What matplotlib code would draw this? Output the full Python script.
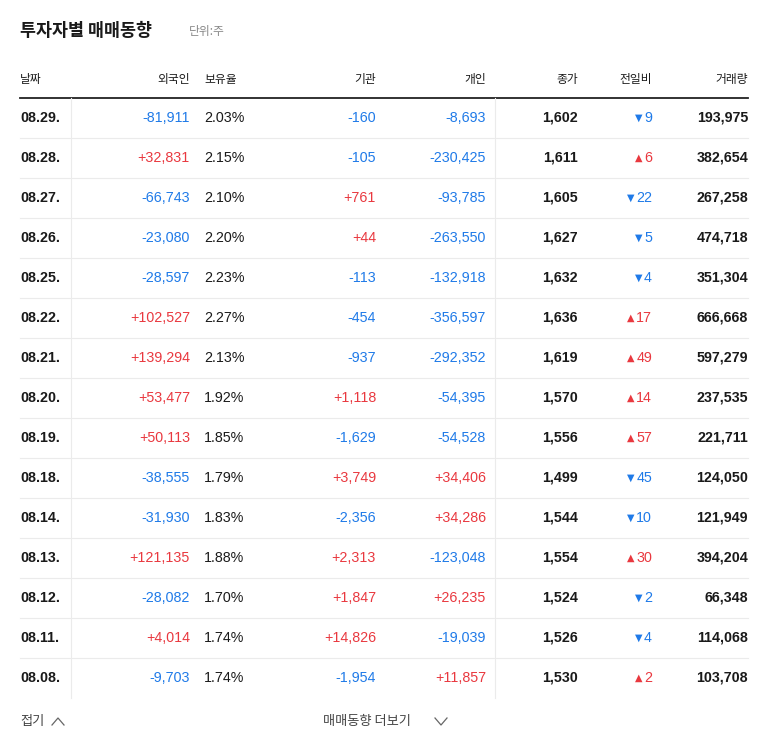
import matplotlib
matplotlib.use("Agg")
import matplotlib.pyplot as plt
from matplotlib.lines import Line2D

dates = ["08.29.","08.28.","08.27.","08.26.","08.25.","08.22.","08.21.","08.20.","08.19.","08.18.","08.14.","08.13.","08.12.","08.11.","08.08."]
foreign = [-81911,32831,-66743,-23080,-28597,102527,139294,53477,50113,-38555,-31930,121135,-28082,4014,-9703]
holding = [2.03,2.15,2.10,2.20,2.23,2.27,2.13,1.92,1.85,1.79,1.83,1.88,1.70,1.74,1.74]
inst = [-160,-105,761,44,-113,-454,-937,1118,-1629,3749,-2356,2313,1847,14826,-1954]
indiv = [-8693,-230425,-93785,-263550,-132918,-356597,-292352,-54395,-54528,34406,34286,-123048,26235,-19039,11857]
close = [1602,1611,1605,1627,1632,1636,1619,1570,1556,1499,1544,1554,1524,1526,1530]
change = [-9,6,-22,-5,-4,17,49,14,57,-45,-10,30,-2,-4,2]
volume = [193975,382654,267258,474718,351304,666668,597279,237535,221711,124050,121949,394204,66348,114068,103708]
headers = ["날짜","외국인","보유율","기관","개인","종가","전일비","거래량"]

W, H = 768, 749
BLUE = "#1f7ae8"; RED = "#e9383f"; DARK = "#1a1a1a"; GRAY = "#888888"
plt.rcParams["font.family"] = ["Liberation Sans", "Noto Sans CJK KR", "Noto Sans CJK JP",
                               "Noto Sans CJK SC", "DejaVu Sans"]
KR = ["Noto Sans CJK KR", "Noto Sans CJK JP", "Noto Sans CJK SC", "DejaVu Sans"]
fig = plt.figure(figsize=(W/100, H/100), dpi=100)
ax = fig.add_axes([0, 0, 1, 1])
ax.set_xlim(0, W); ax.set_ylim(H, 0); ax.axis("off")

def T(x, y, s, **kw):
    kw.setdefault("va", "center"); kw.setdefault("fontsize", 10.3); kw.setdefault("color", DARK)
    return ax.text(x, y, s, **kw)

def col(v): return RED if v > 0 else BLUE
def sgn(v): return f"+{v:,}" if v > 0 else f"{v:,}"

T(20, 31, "투자자별 매매동향", fontsize=12.5, fontweight="bold", family=KR)
T(189, 32, "단위:주", fontsize=8.5, color=GRAY, family=KR)

hy = 80
hx = [(20,"left"),(190,"right"),(204,"left"),(376,"right"),(486,"right"),(578,"right"),(652,"right"),(748,"right")]
for (x, ha), h in zip(hx, headers):
    T(x, hy, h, ha=ha, fontsize=8.5, family=KR)
ax.add_line(Line2D([20, 748], [98, 98], color="#222222", lw=1.3))

row0, dy = 118, 40
for i in range(len(dates)):
    y = row0 + i*dy
    T(20, y, dates[i], fontweight="bold")
    T(190, y, sgn(foreign[i]), ha="right", color=col(foreign[i]))
    T(204, y, f"{holding[i]:.2f}%", ha="left")
    T(376, y, sgn(inst[i]), ha="right", color=col(inst[i]))
    T(486, y, sgn(indiv[i]), ha="right", color=col(indiv[i]))
    T(578, y, f"{close[i]:,}", ha="right", fontweight="bold")
    c = col(change[i])
    t = T(652, y, f"{abs(change[i])}", ha="right", color=c)
    fig.canvas.draw()
    bb = t.get_window_extent()
    T(bb.x0 - 2, y, "▲" if change[i] > 0 else "▼", ha="right", color=c, fontsize=7, family="DejaVu Sans")
    T(748, y, f"{volume[i]:,}", ha="right", fontweight="bold")
    if i < len(dates) - 1:
        ax.add_line(Line2D([20, 748], [y+20, y+20], color="#ebebeb", lw=0.8))

ax.add_line(Line2D([71, 71], [98, 698], color="#ebebeb", lw=0.8))
ax.add_line(Line2D([495, 495], [98, 698], color="#ebebeb", lw=0.8))

T(20, 721, "접기", fontsize=9.5, color="#444444", family=KR)
ax.add_line(Line2D([52, 58, 64], [725, 718, 725], color="#666666", lw=0.9))
T(323, 721, "매매동향 더보기", fontsize=9.5, color="#444444", family=KR)
ax.add_line(Line2D([435, 441, 447], [718, 725, 718], color="#666666", lw=0.9))

fig.savefig("out.png", dpi=100)
